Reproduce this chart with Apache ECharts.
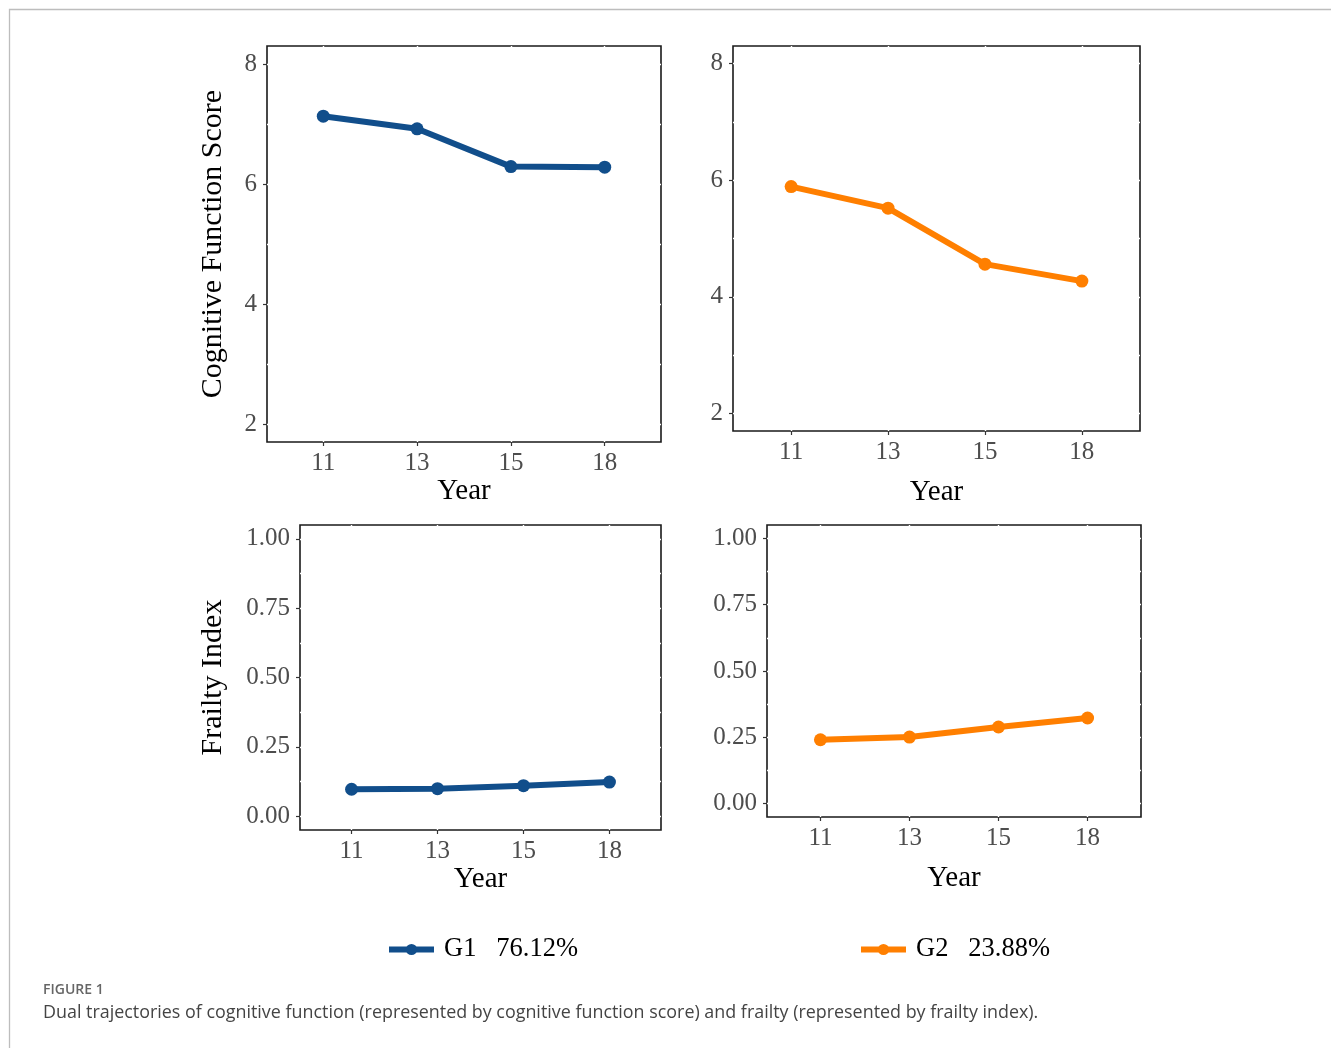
<!DOCTYPE html>
<html><head><meta charset="utf-8">
<script src="https://cdn.jsdelivr.net/npm/echarts@6/dist/echarts.min.js"></script>
<style>html,body{margin:0;padding:0;background:#fff}#c{width:1331px;height:1048px}</style>
</head><body><div id="c"></div>
<script>
// ---- data ----
const years = ['11', '13', '15', '18'];
const groupNames = ['G1', 'G2'];
const groupShares = ['76.12%', '23.88%'];
const g1Cognitive = [7.13, 6.92, 6.29, 6.28];
const g2Cognitive = [5.89, 5.52, 4.56, 4.27];
const g1Frailty = [0.097, 0.099, 0.110, 0.123];
const g2Frailty = [0.241, 0.251, 0.289, 0.323];
const cogTicks = [2, 4, 6, 8];
const cogGridLines = [2, 3, 4, 5, 6, 7, 8];
const frailTicks = [0, 0.25, 0.5, 0.75, 1];
const frailGridLines = [0, 0.125, 0.25, 0.375, 0.5, 0.625, 0.75, 0.875, 1];
const cogTitle = 'Cognitive Function Score';
const frailTitle = 'Frailty Index';
const xTitle = 'Year';
const captionHead = 'FIGURE 1';
const captionText = 'Dual trajectories of cognitive function (represented by cognitive function score) and frailty (represented by frailty index).';

// ---- styling ----
const colors = ['#114E8B', '#FF7F00'];
const serif = 'Liberation Serif';
const xPos = years.map((y, i) => i + 1);

const chart = echarts.init(document.getElementById('c'), null, {renderer: 'canvas'});

function xAxis(gi, gap) {
  return {
    type: 'value', gridIndex: gi, min: 0.4, max: 4.6, position: 'bottom',
    name: xTitle, nameLocation: 'middle', nameGap: gap,
    nameTextStyle: {fontFamily: serif, fontSize: 29, color: '#000'},
    axisLine: {show: false, onZero: false}, splitLine: {show: false},
    axisTick: {show: true, customValues: xPos, length: 4, lineStyle: {color: '#333', width: 1.2}},
    axisLabel: {customValues: xPos, formatter: v => years[Math.round(v) - 1],
      fontFamily: serif, fontSize: 25, color: '#4D4D4D', margin: 8.5}
  };
}
function yAxis(gi, min, max, ticks, fmt, title, gap) {
  return {
    type: 'value', gridIndex: gi, min: min, max: max, position: 'left',
    name: title || '', nameLocation: 'middle', nameGap: gap || 0,
    nameTextStyle: {fontFamily: serif, fontSize: 30, color: '#000'},
    axisLine: {show: false, onZero: false}, splitLine: {show: false},
    axisTick: {show: true, customValues: ticks, length: 4, lineStyle: {color: '#333', width: 1.2}},
    axisLabel: {customValues: ticks, formatter: fmt,
      fontFamily: serif, fontSize: 25, color: '#4D4D4D', margin: 10}
  };
}
function dataSeries(gi, name, vals, color) {
  return {
    type: 'line', name: name, xAxisIndex: gi, yAxisIndex: gi, z: 3,
    data: vals.map((v, i) => [xPos[i], v]),
    symbol: 'circle', symbolSize: 13, showSymbol: true,
    lineStyle: {color: color, width: 6}, itemStyle: {color: color},
    animation: false
  };
}
// white panel grid lines (only visible where they cross the black panel border)
function gridLineSeries(gi, yLines) {
  const lo = 0.4, hi = 4.6;
  const horiz = yLines.map(v => [{coord: [lo, v]}, {coord: [hi, v]}]);
  return {
    type: 'line', name: 'grid' + gi, xAxisIndex: gi, yAxisIndex: gi, z: 1, silent: true,
    data: [], animation: false,
    markLine: {
      z: 1, silent: true, symbol: ['none', 'none'], animation: false, label: {show: false},
      lineStyle: {color: '#fff', width: 1.4, type: 'solid'},
      emphasis: {disabled: true},
      data: horiz.concat(xPos.map(v => ({xAxis: v})))
    }
  };
}
const border = {show: true, borderColor: '#1a1a1a', borderWidth: 1.6, backgroundColor: 'transparent'};
const fmtCog = v => String(v);
const fmtFrail = v => v.toFixed(2);

const legendBase = {
  orient: 'horizontal', top: 936, padding: 0, itemWidth: 45, itemHeight: 14, selectedMode: false,
  lineStyle: {width: 6},
  formatter: n => n + '   ' + groupShares[groupNames.indexOf(n)],
  textStyle: {fontFamily: serif, fontSize: 26.5, color: '#000', padding: [0, 0, 0, 5]}
};

chart.setOption({
  animation: false,
  backgroundColor: '#fff',
  grid: [
    Object.assign({left: 267, top: 46, width: 394, height: 396}, border),
    Object.assign({left: 733, top: 46, width: 407, height: 385}, border),
    Object.assign({left: 300, top: 525, width: 361, height: 305}, border),
    Object.assign({left: 767, top: 525, width: 374, height: 292}, border)
  ],
  xAxis: [xAxis(0, 35), xAxis(1, 47), xAxis(2, 34), xAxis(3, 47)],
  yAxis: [
    yAxis(0, 1.7, 8.3, cogTicks, fmtCog, cogTitle, 38.5),
    yAxis(1, 1.7, 8.3, cogTicks, fmtCog),
    yAxis(2, -0.05, 1.05, frailTicks, fmtFrail, frailTitle, 71.5),
    yAxis(3, -0.05, 1.05, frailTicks, fmtFrail)
  ],
  legend: [
    Object.assign({left: 386, data: [groupNames[0]]}, legendBase),
    Object.assign({left: 858, data: [groupNames[1]]}, legendBase)
  ],
  series: [
    gridLineSeries(0, cogGridLines),
    gridLineSeries(1, cogGridLines),
    gridLineSeries(2, frailGridLines),
    gridLineSeries(3, frailGridLines),
    dataSeries(0, groupNames[0], g1Cognitive, colors[0]),
    dataSeries(1, groupNames[1], g2Cognitive, colors[1]),
    dataSeries(2, groupNames[0], g1Frailty, colors[0]),
    dataSeries(3, groupNames[1], g2Frailty, colors[1])
  ],
  graphic: [
    {type: 'rect', silent: true, z: -10, shape: {x: 9.5, y: 9.5, width: 1500, height: 1200},
      style: {fill: 'none', stroke: '#bdbdbd', lineWidth: 1.3}},
    {type: 'text', left: 43, top: 983, silent: true,
      style: {text: captionHead, fontFamily: 'Open Sans', fontWeight: 600, fontSize: 14, fill: '#666'}},
    {type: 'text', left: 43, top: 1004, silent: true,
      style: {text: captionText, fontFamily: 'Open Sans', fontSize: 17.9, fill: '#444'}}
  ]
});
</script></body></html>
